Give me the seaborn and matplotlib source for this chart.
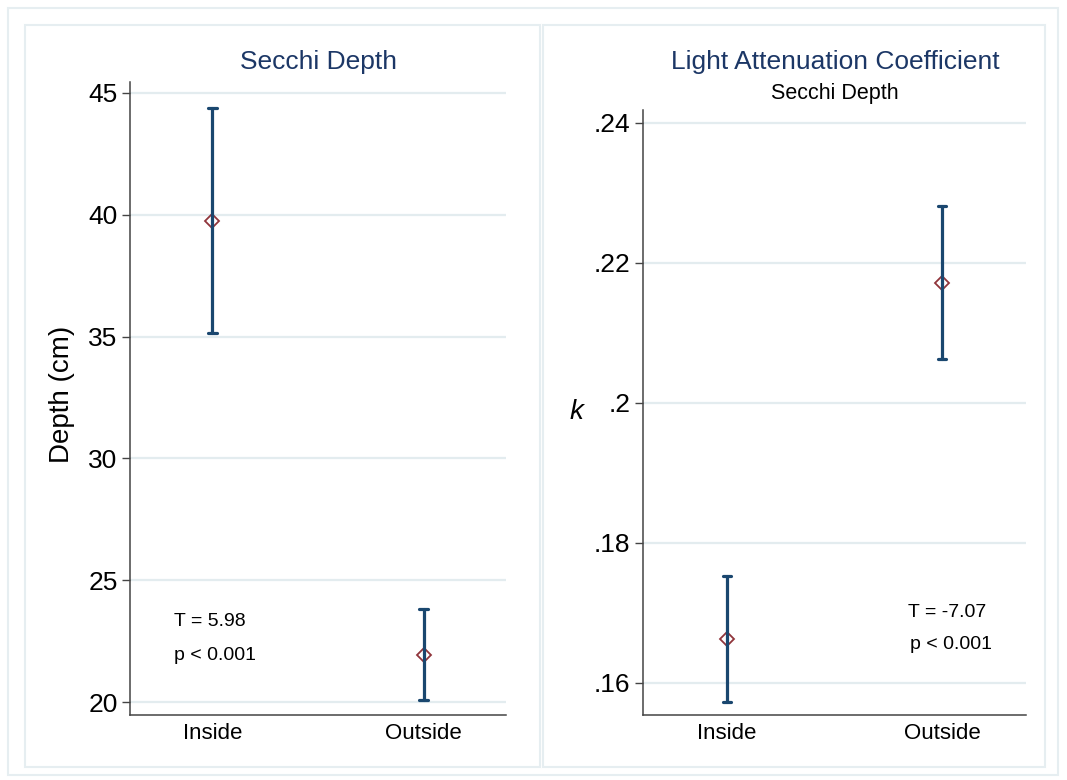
import numpy as np
import pandas as pd
import matplotlib
matplotlib.use("Agg")
import matplotlib.pyplot as plt
from matplotlib.patches import Rectangle
import seaborn as sns

# ---- data ----
groups = ["Inside", "Outside"]
depth_mean = [39.75, 21.93]
depth_lo = [35.15, 20.08]
depth_hi = [44.37, 23.80]
k_mean = [0.1662, 0.2171]
k_lo = [0.1572, 0.2062]
k_hi = [0.1753, 0.2281]

depth_ticks = [20, 25, 30, 35, 40, 45]
depth_ticklabels = ["20", "25", "30", "35", "40", "45"]
k_ticks = [0.16, 0.18, 0.20, 0.22, 0.24]
k_ticklabels = [".16", ".18", ".2", ".22", ".24"]

depth_stats = ["T = 5.98", "p < 0.001"]
k_stats = ["T = -7.07", "p < 0.001"]

sns.set_theme(style="white")
plt.rcParams["font.family"] = ["Liberation Sans", "DejaVu Sans"]

NAVY = "#1a476f"
MAROON = "#90353b"
TITLE = "#1c3766"
GRID = "#e3ecef"
FRAME = "#e6eef1"

W, H = 1067, 780
fig = plt.figure(figsize=(W / 100, H / 100), dpi=100)
fig.patch.set_facecolor("white")


def px(x0, y0, x1, y1):
    return [x0 / W, 1 - y1 / H, (x1 - x0) / W, (y1 - y0) / H]


# faint frames
for (x0, y0, x1, y1) in [(8, 8, 1058, 775), (25, 25, 540, 767), (543, 25, 1045, 767)]:
    fig.patches.append(Rectangle((x0 / W, 1 - y1 / H), (x1 - x0) / W, (y1 - y0) / H,
                                 transform=fig.transFigure, fill=False,
                                 edgecolor=FRAME, linewidth=1.5, zorder=0))


def long_df(lo, mid, hi):
    rows = []
    for g, a, b, c in zip(groups, lo, mid, hi):
        for v in (a, b, c):
            rows.append({"group": g, "value": v})
    return pd.DataFrame(rows)


def draw(ax, df, ticks, ticklabels, ylim):
    sns.pointplot(data=df, x="group", y="value", order=groups,
                  estimator="median", errorbar=lambda v: (v.min(), v.max()),
                  color=MAROON, markers="D", linestyle="none",
                  markersize=7.5, markerfacecolor="none", markeredgewidth=1.3,
                  markeredgecolor=MAROON, zorder=2,
                  capsize=0.04,
                  err_kws={"color": NAVY, "linewidth": 2.3, "zorder": 3},
                  ax=ax)
    ax.set_xlim(-0.39, 1.39)
    ax.set_ylim(*ylim)
    ax.set_yticks(ticks)
    ax.set_yticklabels(ticklabels)
    ax.set_xlabel("")
    ax.set_ylabel("")
    ax.yaxis.grid(True, color=GRID, linewidth=1.6, zorder=0)
    ax.set_axisbelow(True)
    for s in ["top", "right"]:
        ax.spines[s].set_visible(False)
    for s in ["left", "bottom"]:
        ax.spines[s].set_color("#444444")
        ax.spines[s].set_linewidth(1.1)
    ax.tick_params(axis="y", which="both", left=True, length=6, width=1.0,
                   color="#444444", labelsize=19, pad=3, labelcolor="black")
    ax.tick_params(axis="x", length=0, labelsize=16, pad=6, labelcolor="black")
    ax.set_facecolor("white")


# left panel
ax1 = fig.add_axes(px(130, 82, 506, 715))
draw(ax1, long_df(depth_lo, depth_mean, depth_hi), depth_ticks, depth_ticklabels,
     (19.47, 45.45))
ax1.text(-0.18, 23.3, depth_stats[0], fontsize=14, ha="left", va="center", color="black")
ax1.text(-0.18, 21.93, depth_stats[1], fontsize=14, ha="left", va="center", color="black")
fig.text(318 / W, 1 - 62 / H, "Secchi Depth", fontsize=19, color=TITLE,
         ha="center", va="center")
fig.text(62 / W, 1 - 394 / H, "Depth (cm)", fontsize=20, rotation=90,
         ha="center", va="center", color="black")

# right panel
ax2 = fig.add_axes(px(643, 110, 1026, 715))
draw(ax2, long_df(k_lo, k_mean, k_hi), k_ticks, k_ticklabels, (0.1554, 0.2418))
ax2.text(0.84, 0.1700, k_stats[0], fontsize=14, ha="left", va="center", color="black")
ax2.text(0.85, 0.1654, k_stats[1], fontsize=14, ha="left", va="center", color="black")
fig.text(835 / W, 1 - 62 / H, "Light Attenuation Coefficient", fontsize=19,
         color=TITLE, ha="center", va="center")
fig.text(835 / W, 1 - 94 / H, "Secchi Depth", fontsize=15.5, color="black",
         ha="center", va="center")
fig.text(576 / W, 1 - 412 / H, "k", fontsize=20, style="italic",
         ha="center", va="center", color="black")

fig.savefig("out.png", dpi=100, facecolor="white")
